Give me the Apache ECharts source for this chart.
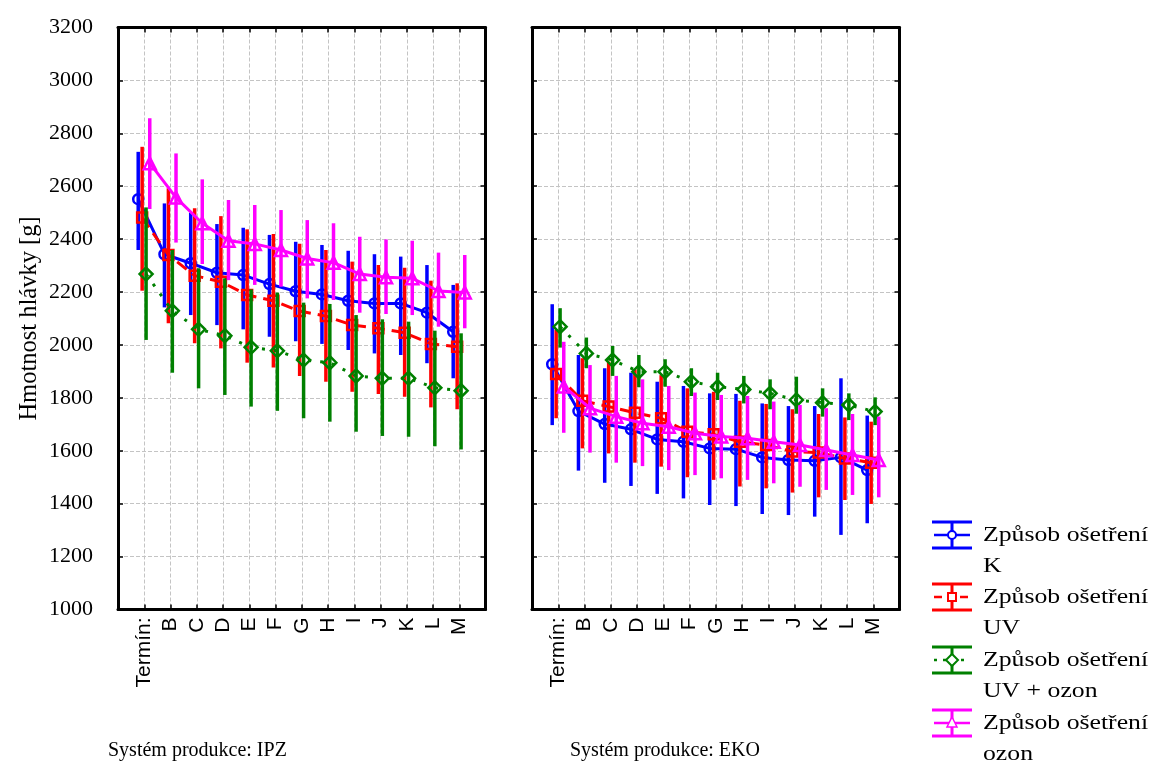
<!DOCTYPE html>
<html>
<head>
<meta charset="utf-8">
<script src="https://cdn.jsdelivr.net/npm/echarts@6/dist/echarts.min.js"></script>
<style>
html,body{margin:0;padding:0;background:#fff}
#chart{width:1151px;height:774px}
</style>
</head>
<body>
<div id="chart"></div>
<script>
// kategorie (termíny)
var categories = ['Termín:','B','C','D','E','F','G','H','I','J','K','L','M']
var treatments = ['K','UV','UV + ozon','ozon']
var panelTitles = ['Systém produkce: IPZ','Systém produkce: EKO']

// IPZ
var ipzK     = [2551,2343,2309,2273,2264,2230,2203,2191,2167,2157,2157,2122,2050]
var ipzKLow  = [2359,2142,2113,2075,2059,2031,2014,2004,1981,1968,1962,1931,1874]
var ipzKHigh = [2730,2535,2500,2457,2443,2416,2390,2378,2356,2343,2334,2302,2227]
var ipzUV     = [2482,2340,2262,2239,2189,2167,2128,2109,2075,2063,2046,2004,1993]
var ipzUVLow  = [2205,2082,2006,1987,1933,1915,1883,1861,1823,1815,1804,1764,1757]
var ipzUVHigh = [2749,2592,2517,2487,2437,2419,2383,2359,2315,2302,2292,2243,2233]
var ipzUVO     = [2268,2129,2059,2035,1991,1978,1943,1933,1883,1874,1874,1838,1827]
var ipzUVOLow  = [2019,1895,1836,1811,1767,1751,1723,1710,1672,1656,1653,1617,1605]
var ipzUVOHigh = [2520,2359,2290,2252,2210,2198,2160,2155,2113,2097,2088,2054,2044]
var ipzO     = [2687,2557,2460,2394,2382,2359,2327,2311,2268,2256,2252,2204,2198]
var ipzOLow  = [2514,2387,2306,2245,2227,2220,2176,2170,2122,2117,2113,2069,2063]
var ipzOHigh = [2857,2724,2626,2548,2529,2510,2472,2460,2409,2399,2394,2349,2340]

// EKO
var ekoK     = [1927,1750,1701,1681,1643,1634,1609,1606,1575,1565,1562,1575,1527]
var ekoKLow  = [1697,1525,1479,1467,1437,1420,1395,1391,1361,1357,1351,1282,1326]
var ekoKHigh = [2154,1962,1912,1895,1861,1845,1817,1815,1779,1769,1769,1874,1733]
var ekoUV     = [1890,1789,1767,1744,1723,1672,1662,1634,1622,1597,1593,1571,1555]
var ekoUVLow  = [1723,1609,1590,1555,1540,1500,1490,1465,1458,1442,1424,1414,1399]
var ekoUVHigh = [2057,1950,1937,1908,1886,1836,1823,1789,1777,1757,1739,1726,1710]
var ekoUVO     = [2069,1968,1943,1899,1899,1861,1842,1832,1817,1792,1782,1773,1748]
var ekoUVOLow  = [1990,1912,1883,1840,1842,1807,1792,1779,1757,1740,1729,1716,1697]
var ekoUVOHigh = [2139,2028,1996,1962,1946,1912,1895,1883,1870,1880,1836,1817,1802]
var ekoO     = [1843,1761,1729,1704,1691,1666,1654,1647,1634,1622,1603,1584,1565]
var ekoOLow  = [1668,1593,1555,1542,1527,1508,1496,1490,1477,1464,1452,1433,1424]
var ekoOHigh = [2012,1924,1883,1870,1845,1820,1811,1807,1786,1773,1761,1739,1729]

var panels = [
    {means:[ipzK,ipzUV,ipzUVO,ipzO], lows:[ipzKLow,ipzUVLow,ipzUVOLow,ipzOLow], highs:[ipzKHigh,ipzUVHigh,ipzUVOHigh,ipzOHigh]},
    {means:[ekoK,ekoUV,ekoUVO,ekoO], lows:[ekoKLow,ekoUVLow,ekoUVOLow,ekoOLow], highs:[ekoKHigh,ekoUVHigh,ekoUVOHigh,ekoOHigh]}
]

var colors = ['#0000ff','#ff0000','#008000','#ff00ff']
var symbols = ['circle','rect','diamond','triangle']
var symbolSizes = [10,10,13,12]
var lineTypes = ['solid',[12,7],[3,9],'solid']
var offsets = [-0.23,-0.08,0.07,0.21]

var serif = 'Liberation Serif'
var sans = 'Liberation Sans'
var gridLefts = [118,532]

var chart = echarts.init(document.getElementById('chart'))
var options = {animation:false,grid:[],xAxis:[],yAxis:[],series:[],graphic:[]}

var frameLine = {show:true,onZero:false,lineStyle:{color:'#000',width:3}}
var innerTick = {show:true,inside:true,length:5,lineStyle:{color:'#000',width:1.5}}
var dashed = {show:true,lineStyle:{type:'dashed',color:'#c4c4c4',width:1}}

for (var p=0;p<2;p++){
    options.grid.push({left:gridLefts[p],top:27.5,width:367.5,height:582})
    options.xAxis.push({gridIndex:p,type:'value',min:-1,max:13,interval:1,position:'bottom',
        axisLine:frameLine,axisTick:innerTick,splitLine:dashed,
        axisLabel:{rotate:90,margin:8,fontFamily:sans,fontSize:21,color:'#000',
            formatter:function(v){return categories[v]||''}}})
    options.xAxis.push({gridIndex:p,type:'value',min:-1,max:13,interval:1,position:'top',
        axisLine:frameLine,axisTick:innerTick,splitLine:{show:false},axisLabel:{show:false}})
    options.yAxis.push({gridIndex:p,type:'value',min:1000,max:3200,interval:200,position:'left',
        axisLine:frameLine,axisTick:innerTick,splitLine:dashed,
        axisLabel:{show:p==0,margin:25,fontFamily:serif,fontSize:22,color:'#000',
            formatter:function(v){return String(v)}},
        name:p==0?'Hmotnost hlávky [g]':'',nameLocation:'middle',nameRotate:90,nameGap:76,
        nameTextStyle:{fontFamily:serif,fontSize:24.5,color:'#000'}})
    options.yAxis.push({gridIndex:p,type:'value',min:1000,max:3200,interval:200,position:'right',
        axisLine:frameLine,axisTick:innerTick,splitLine:{show:false},axisLabel:{show:false}})

    var d = panels[p]
    for (var s=0;s<4;s++){
        var barData=[],lineData=[]
        for (var i=0;i<categories.length;i++){
            barData.push([i+offsets[s],d.lows[s][i],d.highs[s][i]])
            lineData.push([i+offsets[s],d.means[s][i]])
        }
        options.series.push({type:'custom',xAxisIndex:p*2,yAxisIndex:p*2,z:2+s,data:barData,
            renderItem:(function(col){
                return function(params,api){
                    var a = api.coord([api.value(0),api.value(1)])
                    var b = api.coord([api.value(0),api.value(2)])
                    return {type:'line',shape:{x1:a[0],y1:a[1],x2:b[0],y2:b[1]},
                        style:{stroke:col,lineWidth:3.5}}
                }
            })(colors[s])})
        options.series.push({type:'line',name:treatments[s],xAxisIndex:p*2,yAxisIndex:p*2,z:2+s,
            data:lineData,symbol:symbols[s],symbolSize:symbolSizes[s],
            itemStyle:{color:'rgba(0,0,0,0)',borderColor:colors[s],borderWidth:2.5},
            lineStyle:{color:colors[s],width:3,type:lineTypes[s]}})
    }
    options.graphic.push({type:'text',left:[108,570][p],top:741,
        style:{text:panelTitles[p],font:'20px "Liberation Serif"',fill:'#000'}})
}

// legenda
var legendY = [535,597,660,723]
for (var k=0;k<4;k++){
    var c = legendY[k], col = colors[k], g = []
    g.push({type:'line',shape:{x1:932,y1:c-13,x2:972,y2:c-13},style:{stroke:col,lineWidth:3}})
    g.push({type:'line',shape:{x1:932,y1:c+13,x2:972,y2:c+13},style:{stroke:col,lineWidth:3}})
    g.push({type:'line',shape:{x1:952,y1:c-13,x2:952,y2:c+13},style:{stroke:col,lineWidth:3}})
    g.push({type:'line',shape:{x1:934,y1:c,x2:970,y2:c},style:{stroke:col,lineWidth:2.5,lineDash:k==1?[8,5]:k==2?[3,6]:null}})
    if (k==0) g.push({type:'circle',shape:{cx:952,cy:c,r:4},style:{fill:'#fff',stroke:col,lineWidth:2}})
    if (k==1) g.push({type:'rect',shape:{x:948,y:c-4,width:8,height:8},style:{fill:'#fff',stroke:col,lineWidth:2}})
    if (k==2) g.push({type:'polygon',shape:{points:[[952,c-6],[958,c],[952,c+6],[946,c]]},style:{fill:'#fff',stroke:col,lineWidth:2}})
    if (k==3) g.push({type:'polygon',shape:{points:[[952,c-6],[957,c+4],[947,c+4]]},style:{fill:'#fff',stroke:col,lineWidth:1.5}})
    g.push({type:'text',x:983,y:c,scaleX:1.17,style:{text:'Způsob ošetření',font:'22px "Liberation Serif"',fill:'#000',verticalAlign:'middle'}})
    g.push({type:'text',x:983,y:c+31,scaleX:1.17,style:{text:treatments[k],font:'22px "Liberation Serif"',fill:'#000',verticalAlign:'middle'}})
    options.graphic.push({type:'group',children:g})
}

chart.setOption(options)
</script>
</body>
</html>
